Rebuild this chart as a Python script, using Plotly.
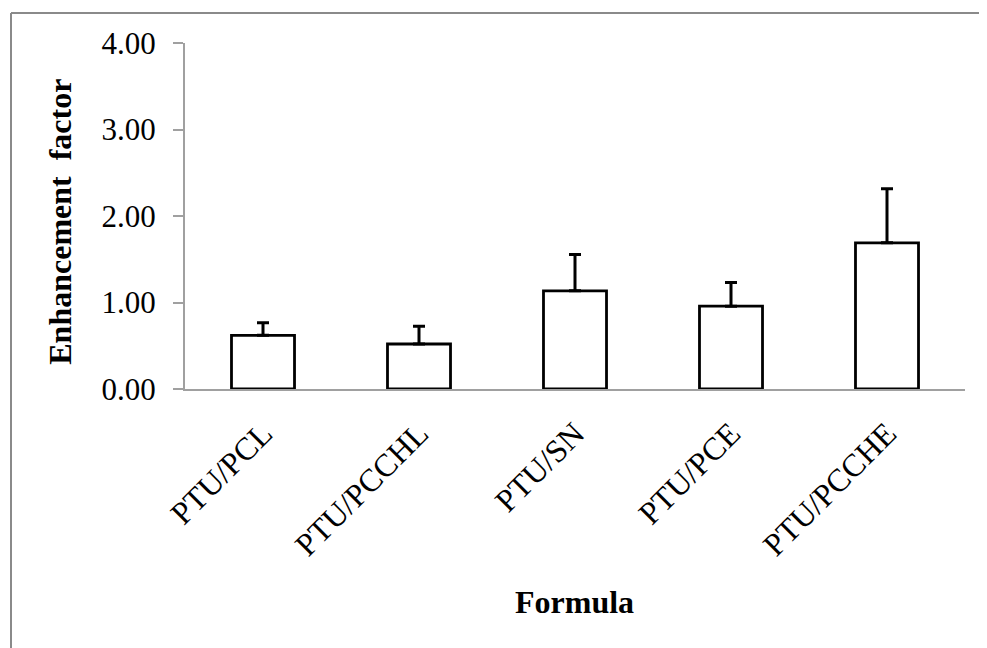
import plotly.graph_objects as go

categories = ["PTU/PCL", "PTU/PCCHL", "PTU/SN", "PTU/PCE", "PTU/PCCHE"]
values = [0.62, 0.52, 1.135, 0.957, 1.69]
errors = [0.145, 0.205, 0.42, 0.275, 0.625]
y_ticks = [0, 1, 2, 3, 4]
y_tick_labels = ["0.00", "1.00", "2.00", "3.00", "4.00"]

OFF = 8  # default page body margin
W, H = 987 - OFF, 648 - OFF
L, R, T, B = 185 - OFF, 965 - OFF, 43 - OFF, 389.5 - OFF

fig = go.Figure()
fig.add_trace(go.Bar(
    x=categories, y=values,
    marker=dict(color="white", line=dict(color="black", width=2.8)),
    error_y=dict(type="data", symmetric=False, array=errors,
                 arrayminus=[0] * len(errors), color="black",
                 thickness=3, width=6),
    showlegend=False,
))

def px_x(p):
    return (p - OFF - L) / (R - L)

def px_y(p):
    return (B - (p - OFF)) / (B - T)

fig.update_layout(
    width=W, height=H,
    margin=dict(l=L, r=W - R, t=T, b=H - B, pad=0),
    paper_bgcolor="white", plot_bgcolor="white",
    bargap=0.596,
    font=dict(family="Liberation Serif, Times New Roman, serif", color="black"),
    xaxis=dict(
        showline=True, linecolor="#a0a0a0", linewidth=2,
        ticks="", tickangle=-45, tickfont=dict(size=32),
        ticklabelstandoff=11,
        showgrid=False, zeroline=False,
    ),
    yaxis=dict(
        range=[0, 4], tickvals=y_ticks, ticktext=y_tick_labels,
        showline=True, linecolor="#a0a0a0", linewidth=2,
        ticks="outside", ticklen=10, tickwidth=2, tickcolor="#a0a0a0",
        tickfont=dict(size=31), ticklabelstandoff=11,
        showgrid=False, zeroline=False,
    ),
    annotations=[
        dict(text="<b>Formula</b>", xref="paper", yref="paper",
             x=px_x(574), y=px_y(603), showarrow=False,
             font=dict(size=32), xanchor="center", yanchor="middle"),
        dict(text="<b>Enhancement  factor</b>", xref="paper", yref="paper",
             x=px_x(60), y=px_y(222), showarrow=False, textangle=-90,
             font=dict(size=32), xanchor="center", yanchor="middle"),
    ],
    shapes=[
        dict(type="line", xref="paper", yref="paper",
             x0=px_x(11), y0=px_y(660), x1=px_x(11), y1=px_y(13),
             line=dict(color="#8a8a8a", width=2)),
        dict(type="line", xref="paper", yref="paper",
             x0=px_x(11), y0=px_y(13), x1=px_x(1000), y1=px_y(13),
             line=dict(color="#8a8a8a", width=2)),
    ],
)

fig.write_html("out.html")
